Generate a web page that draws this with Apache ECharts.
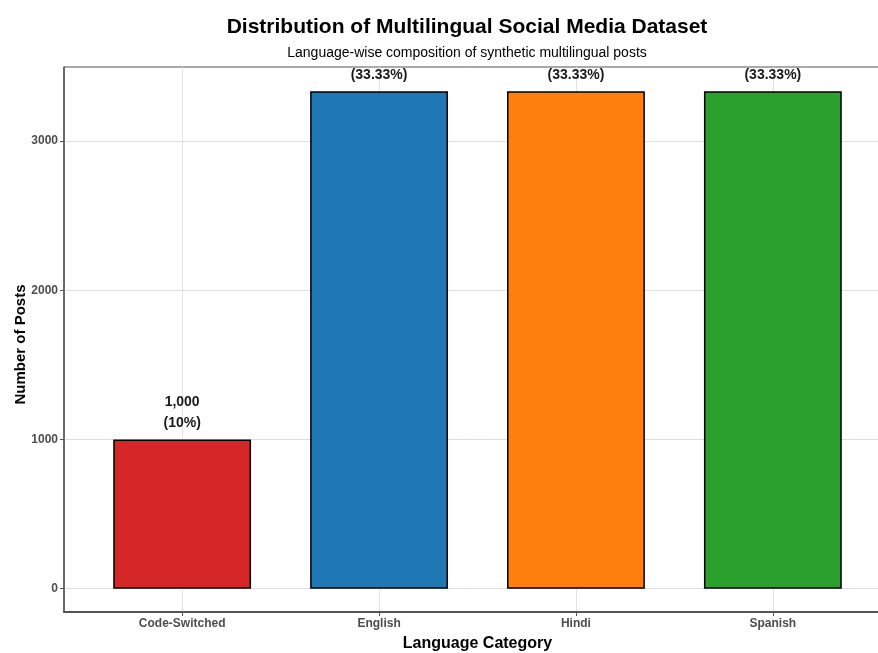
<!DOCTYPE html>
<html>
<head>
<meta charset="utf-8">
<script src="https://cdn.jsdelivr.net/npm/echarts@6/dist/echarts.min.js"></script>
<style>
  html, body { margin: 0; padding: 0; background: #ffffff; }
  #chart { width: 878px; height: 653px; }
</style>
</head>
<body>
<div id="chart"></div>
<script>
// Posts per language category
const categories = ['Code-Switched', 'English', 'Hindi', 'Spanish'];
const counts = [1000, 3333, 3333, 3333];
const shares = [10, 33.33, 33.33, 33.33];   // percent of the dataset
const barColors = ['#d62728', '#1f77b4', '#ff7f0e', '#2ca02c'];
const yTicks = [0, 1000, 2000, 3000];

const fmtCount = v => v.toLocaleString('en-US');

const FONT = '"Liberation Sans", Arial, Helvetica, sans-serif';
const positions = categories.map((c, i) => i + 1);

const chart = echarts.init(document.getElementById('chart'), null, { renderer: 'canvas' });

chart.setOption({
  backgroundColor: '#ffffff',
  animation: false,
  title: [
    {
      text: 'Distribution of Multilingual Social Media Dataset',
      left: 467, top: 17, textAlign: 'center', padding: 0,
      textStyle: { fontFamily: FONT, fontSize: 21, fontWeight: 'bold', color: '#000000' }
    },
    {
      text: 'Language-wise composition of synthetic multilingual posts',
      left: 467, top: 46, textAlign: 'center', padding: 0,
      textStyle: { fontFamily: FONT, fontSize: 14, fontWeight: 'normal', color: '#000000' }
    }
  ],
  grid: {
    left: 64, right: -13, top: 67, bottom: 41,
    outerBoundsMode: 'none',
    containLabel: false,
    show: true, borderColor: '#555555', borderWidth: 1
  },
  xAxis: {
    type: 'value',
    min: 0.4, max: 4.6,
    name: 'Language Category',
    nameLocation: 'middle',
    nameGap: 24,
    nameTextStyle: { fontFamily: FONT, fontSize: 16, fontWeight: 'bold', color: '#000000' },
    axisLine: { show: true, onZero: false, lineStyle: { color: '#555555', width: 2 } },
    axisTick: { show: true, length: 4, customValues: positions, lineStyle: { color: '#555555' } },
    axisLabel: {
      customValues: positions,
      formatter: v => categories[Math.round(v) - 1] || '',
      fontFamily: FONT, fontSize: 12, fontWeight: 'bold', color: '#4d4d4d', margin: 6
    },
    splitLine: { show: true, lineStyle: { color: '#e3e3e3', width: 1 } }
  },
  yAxis: {
    type: 'value',
    min: -156, max: 3496,
    name: 'Number of Posts',
    nameLocation: 'middle',
    nameGap: 36,
    nameMoveOverlap: false,
    nameTextStyle: { fontFamily: FONT, fontSize: 15, fontWeight: 'bold', color: '#000000', padding: [0, 10, 0, 0] },
    axisLine: { show: true, lineStyle: { color: '#555555', width: 1.5 } },
    axisTick: { show: true, length: 4, customValues: yTicks, lineStyle: { color: '#555555' } },
    axisLabel: {
      customValues: yTicks,
      formatter: v => String(v),
      fontFamily: FONT, fontSize: 12, fontWeight: 'bold', color: '#4d4d4d', margin: 6
    },
    splitLine: { show: true, lineStyle: { color: '#dedede', width: 1 } }
  },
  series: [
    {
      type: 'bar',
      barWidth: '70%',
      data: counts.map((v, i) => ({
        value: [positions[i], v],
        itemStyle: { color: barColors[i], borderColor: '#000000', borderWidth: 1.5 }
      })),
      z: 2
    },
    {
      // Count and share labels above each bar, clipped to the plotting panel
      type: 'custom',
      clip: true,
      data: counts.map((v, i) => [positions[i], v, shares[i]]),
      renderItem: (params, api) => {
        const pt = api.coord([api.value(0), api.value(1)]);
        const v = api.value(1);
        return {
          type: 'text',
          x: pt[0],
          y: pt[1] - 6,
          style: {
            text: fmtCount(v) + '\n(' + api.value(2) + '%)',
            align: 'center',
            verticalAlign: 'bottom',
            font: 'bold 14px ' + FONT,
            lineHeight: 21,
            fill: '#1a1a1a'
          }
        };
      },
      z: 3
    }
  ]
});
</script>
</body>
</html>
